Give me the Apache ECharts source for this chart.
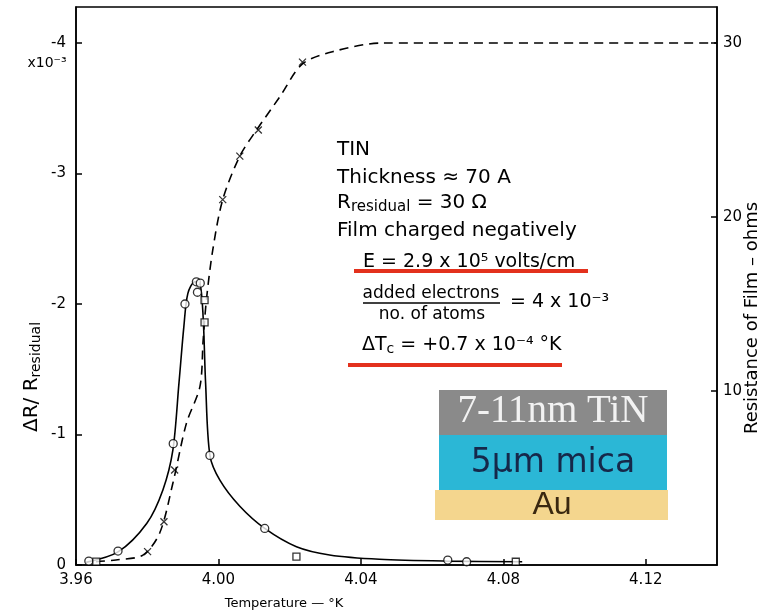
<!DOCTYPE html>
<html>
<head>
<meta charset="utf-8">
<script src="https://cdn.jsdelivr.net/npm/echarts@6/dist/echarts.min.js"></script>
<style>html,body{margin:0;padding:0;background:#fff}#c{width:764px;height:616px}</style>
</head>
<body>
<div id="c"></div>
<script>
// Temperature ticks (°K)
const xTicks = [3.96, 4.00, 4.04, 4.08, 4.12];
const leftTicks = [-4, -3, -2, -1, 0];
const rightTicks = [10, 20, 30];

// Solid curve: ΔR/Rresidual (x10^-3) vs temperature
const solidT = [3.9628, 3.9718, 3.9799, 3.9844, 3.9872, 3.9889, 3.9903, 3.9914, 3.9934, 3.9948, 3.9957, 3.9964, 3.9976, 4.0004, 4.0060, 4.0130, 4.0219, 4.0312, 4.0452, 4.0640, 4.0853];
const solidV = [-0.02, -0.10, -0.32, -0.575, -0.88, -1.39, -1.83, -2.08, -2.17, -2.16, -1.90, -1.39, -0.84, -0.65, -0.45, -0.28, -0.14, -0.077, -0.044, -0.03, -0.025];

// Open circle data points
const circleT = [3.9636, 3.9718, 3.9873, 3.9906, 3.9938, 3.9949, 3.9941, 3.9976, 4.0130, 4.0644, 4.0697];
const circleV = [-0.03, -0.107, -0.93, -2.0, -2.17, -2.16, -2.09, -0.84, -0.28, -0.038, -0.025];

// Open square data points
const squareT = [3.9657, 3.9961, 3.9961, 4.0219, 4.0835];
const squareV = [-0.026, -2.03, -1.86, -0.064, -0.025];

// Dashed curve: resistance of film (ohms)
const dashT = [3.9656, 3.9712, 3.9788, 3.9835, 3.9872, 3.9910, 3.9948, 3.9957, 3.9966, 3.9984, 4.0012, 4.0060, 4.0107, 4.0172, 4.0236, 4.0320, 4.0460, 4.1400];
const dashR = [0.19, 0.29, 0.57, 1.84, 4.7, 8.14, 10.25, 12.9, 15.2, 18.1, 21.0, 23.5, 25.0, 26.9, 28.8, 29.5, 30.0, 30.0];

// Cross data points on resistance curve
const crossT = [3.9801, 3.9847, 3.9877, 4.0012, 4.0060, 4.0112, 4.0236];
const crossR = [0.77, 2.49, 5.46, 21.0, 23.5, 25.0, 28.9];

const pairs = (a, b) => a.map((v, i) => [v, b[i]]);
const FONT = '"DejaVu Sans", sans-serif';

const chart = echarts.init(document.getElementById('c'), null, {renderer: 'canvas'});
chart.setOption({
  animation: false,
  backgroundColor: '#fff',
  grid: {left: 76, right: 47, top: 7, bottom: 51, show: true, borderColor: '#000', borderWidth: 1.5, backgroundColor: 'transparent'},
  xAxis: {
    type: 'value', min: 3.96, max: 4.14,
    axisLine: {show: true, lineStyle: {color: '#000', width: 1.5}},
    axisTick: {show: true, inside: true, length: 6, lineStyle: {color: '#000', width: 1.5}, customValues: xTicks},
    axisLabel: {customValues: xTicks, formatter: v => v.toFixed(2), color: '#000', fontFamily: FONT, fontSize: 15, margin: 8},
    splitLine: {show: false}
  },
  yAxis: [{
    type: 'value', min: -4.276, max: 0, inverse: true, position: 'left',
    axisLine: {show: true, lineStyle: {color: '#000', width: 1.5}},
    axisTick: {show: true, inside: true, length: 6, lineStyle: {color: '#000', width: 1.5}, customValues: leftTicks},
    axisLabel: {customValues: leftTicks, formatter: v => String(v), color: '#000', fontFamily: FONT, fontSize: 15, margin: 10},
    splitLine: {show: false}
  }, {
    type: 'value', min: 0, max: 32.07, position: 'right',
    axisLine: {show: true, lineStyle: {color: '#000', width: 1.5}},
    axisTick: {show: true, inside: true, length: 6, lineStyle: {color: '#000', width: 1.5}, customValues: rightTicks},
    axisLabel: {customValues: rightTicks, color: '#000', fontFamily: FONT, fontSize: 15, margin: 6},
    splitLine: {show: false}
  }],
  series: [{
    type: 'line', yAxisIndex: 0, data: pairs(solidT, solidV), smooth: 0.3,
    showSymbol: false, lineStyle: {color: '#000', width: 1.6}, z: 2
  }, {
    type: 'line', yAxisIndex: 1, data: pairs(dashT, dashR), smooth: 0.3,
    showSymbol: false, lineStyle: {color: '#000', width: 1.6, type: [9, 6]}, z: 2
  }, {
    type: 'scatter', yAxisIndex: 0, data: pairs(circleT, circleV), symbol: 'circle', symbolSize: 8,
    itemStyle: {color: '#fff', borderColor: '#000', borderWidth: 1.3}, z: 3
  }, {
    type: 'scatter', yAxisIndex: 0, data: pairs(squareT, squareV), symbol: 'rect', symbolSize: 7,
    itemStyle: {color: '#fff', borderColor: '#000', borderWidth: 1.3}, z: 3
  }, {
    type: 'scatter', yAxisIndex: 1, data: pairs(crossT, crossR), symbol: 'path://M0,0L10,10M10,0L0,10', symbolSize: 7,
    itemStyle: {color: 'transparent', borderColor: '#000', borderWidth: 1.3}, z: 3
  }],
  graphic: [
    {type: 'text', x: 47, y: 63, style: {text: 'x10⁻³', font: '14px ' + FONT, fill: '#000', align: 'center', verticalAlign: 'middle'}},
    {type: 'text', x: 32, y: 377, rotation: Math.PI / 2, style: {text: 'ΔR/ R{s|residual}', font: '20px ' + FONT, fill: '#000', align: 'center', verticalAlign: 'middle',
      rich: {s: {fontSize: 14, fontFamily: 'DejaVu Sans', verticalAlign: 'bottom', padding: [8, 0, 0, 0]}}}},
    {type: 'text', x: 752, y: 318, rotation: Math.PI / 2, style: {text: 'Resistance of Film – ohms', font: '18px ' + FONT, fill: '#000', align: 'center', verticalAlign: 'middle'}},
    {type: 'text', x: 284, y: 604, style: {text: 'Temperature — °K', font: '13px ' + FONT, fill: '#000', align: 'center', verticalAlign: 'middle'}},

    {type: 'text', x: 337, y: 150, style: {text: 'TIN', font: '20px ' + FONT, fill: '#000', align: 'left', verticalAlign: 'middle'}},
    {type: 'text', x: 337, y: 178, style: {text: 'Thickness ≈ 70 A', font: '20px ' + FONT, fill: '#000', align: 'left', verticalAlign: 'middle'}},
    {type: 'text', x: 337, y: 203, style: {text: 'R{s|residual} = 30 Ω', font: '20px ' + FONT, fill: '#000', align: 'left', verticalAlign: 'middle',
      rich: {s: {fontSize: 15, fontFamily: 'DejaVu Sans', verticalAlign: 'bottom', padding: [8, 0, 0, 0]}}}},
    {type: 'text', x: 337, y: 231, style: {text: 'Film charged negatively', font: '20px ' + FONT, fill: '#000', align: 'left', verticalAlign: 'middle'}},
    {type: 'text', x: 363, y: 262, style: {text: 'E = 2.9 x 10⁵ volts/cm', font: '19px ' + FONT, fill: '#000', align: 'left', verticalAlign: 'middle'}},
    {type: 'line', shape: {x1: 354, y1: 271, x2: 588, y2: 271}, style: {stroke: '#e3311d', lineWidth: 4}},
    {type: 'text', x: 431, y: 294, style: {text: 'added electrons', font: '17px ' + FONT, fill: '#000', align: 'center', verticalAlign: 'middle'}},
    {type: 'line', shape: {x1: 363, y1: 303, x2: 500, y2: 303}, style: {stroke: '#000', lineWidth: 1.5}},
    {type: 'text', x: 432, y: 315, style: {text: 'no. of atoms', font: '17px ' + FONT, fill: '#000', align: 'center', verticalAlign: 'middle'}},
    {type: 'text', x: 510, y: 302, style: {text: '= 4 x 10⁻³', font: '19px ' + FONT, fill: '#000', align: 'left', verticalAlign: 'middle'}},
    {type: 'text', x: 362, y: 345, style: {text: 'ΔT{s|c} = +0.7 x 10⁻⁴ °K', font: '19px ' + FONT, fill: '#000', align: 'left', verticalAlign: 'middle',
      rich: {s: {fontSize: 14, fontFamily: 'DejaVu Sans', verticalAlign: 'bottom', padding: [8, 0, 0, 0]}}}},
    {type: 'line', shape: {x1: 348, y1: 365, x2: 562, y2: 365}, style: {stroke: '#e3311d', lineWidth: 4}},

    {type: 'rect', shape: {x: 439, y: 390, width: 228, height: 45}, style: {fill: '#8a8a8a'}},
    {type: 'rect', shape: {x: 439, y: 435, width: 228, height: 55}, style: {fill: '#2bb7d6'}},
    {type: 'rect', shape: {x: 435, y: 490, width: 233, height: 30}, style: {fill: '#f4d68e'}},
    {type: 'text', x: 553, y: 412, style: {text: '7-11nm {y|TiN}', font: '39px "Liberation Serif", serif', fill: '#f2f2f2', align: 'center', verticalAlign: 'middle',
      rich: {y: {fontSize: 39, fontFamily: 'Liberation Serif', color: '#e8e83a'}}}},
    {type: 'text', x: 553, y: 463, style: {text: '5μm mica', font: '33px ' + FONT, fill: '#16284a', align: 'center', verticalAlign: 'middle'}},
    {type: 'text', x: 552, y: 505, style: {text: 'Au', font: '32px "Liberation Sans", sans-serif', fill: '#3a2810', align: 'center', verticalAlign: 'middle'}}
  ]
});
</script>
</body>
</html>
